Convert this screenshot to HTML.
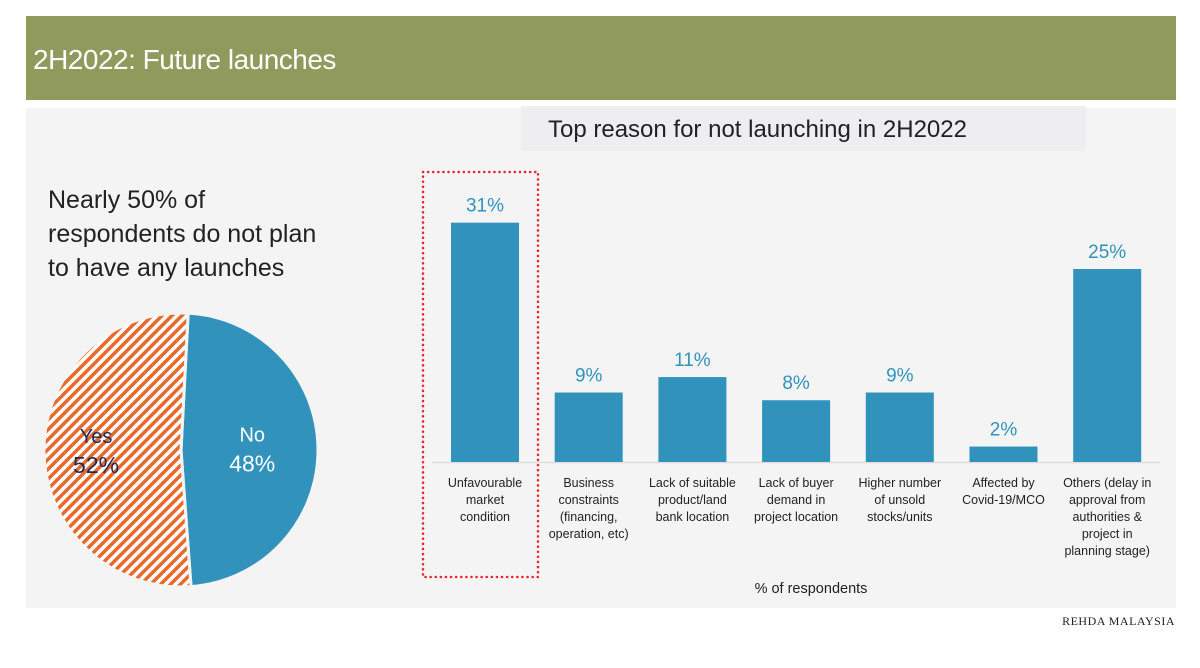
<!DOCTYPE html>
<html><head><meta charset="utf-8"><style>
body{margin:0;width:1200px;height:668px;background:#fff;font-family:"Liberation Sans",sans-serif;overflow:hidden;position:relative}
</style></head><body>
<div style="position:absolute;left:26px;top:16px;width:1150px;height:84px;background:#8f9a5c"></div>
<div style="position:absolute;left:33px;top:44px;color:#fff;font-size:28px;letter-spacing:-0.5px">2H2022: Future launches</div>
<div style="position:absolute;left:26px;top:108px;width:1150px;height:500px;background:#f4f4f4"></div>
<div style="position:absolute;left:521px;top:106px;width:565px;height:45px;background:#eeeef0"></div>
<div style="position:absolute;left:548px;top:116px;color:#222;font-size:24px">Top reason for not launching in 2H2022</div>
<div style="position:absolute;left:48px;top:183px;color:#222;font-size:25px;line-height:34px">Nearly 50% of<br>respondents do not plan<br>to have any launches</div>
<div style="position:absolute;right:25px;top:614px;font-family:'Liberation Serif',serif;font-size:12px;color:#222;letter-spacing:0.5px">REHDA MALAYSIA</div>
<svg id="chart" width="1200" height="668" style="position:absolute;left:0;top:0">
<defs><pattern id="hatch" width="7" height="7" patternUnits="userSpaceOnUse" patternTransform="rotate(45)"><rect width="7" height="7" fill="#fff"/><rect width="3.5" height="7" fill="#e8692a"/></pattern></defs>
</svg>
<script>
const pieLabels=["No","Yes"];
const pieValues=[48,52];
const categories=[["Unfavourable","market","condition"],["Business","constraints","(financing,","operation, etc)"],["Lack of suitable","product/land","bank location"],["Lack of buyer","demand in","project location"],["Higher number","of unsold","stocks/units"],["Affected by","Covid-19/MCO"],["Others (delay in","approval from","authorities &","project in","planning stage)"]];
const values=[31,9,11,8,9,2,25];
const NS="http://www.w3.org/2000/svg";
const svg=document.getElementById('chart');
function mk(t,a){const e=document.createElementNS(NS,t);for(const k in a)e.setAttribute(k,a[k]);svg.appendChild(e);return e;}
// pie
const cx=181,cy=450,r=137;let start=3;
const tot=pieValues.reduce((a,b)=>a+b,0);
pieValues.forEach((v,i)=>{
 const a0=start*Math.PI/180,sweep=v/tot*360,a1=(start+sweep)*Math.PI/180;
 const p=`M${cx},${cy} L${cx+r*Math.sin(a0)},${cy-r*Math.cos(a0)} A${r},${r} 0 ${sweep>180?1:0} 1 ${cx+r*Math.sin(a1)},${cy-r*Math.cos(a1)} Z`;
 const s=mk('path',{d:p,fill:i==0?'#3193bb':'url(#hatch)',stroke:'#f4f4f4','stroke-width':3});
 
 
 const mid=(start+sweep/2)*Math.PI/180, lr=i==0?r*0.52:r*0.62;
 const tx=cx+lr*Math.sin(mid), ty=cy-lr*Math.cos(mid);
 const col=i==0?'#fff':'#1d2a5c';
 const t1=mk('text',{x:tx,y:ty-8,'text-anchor':'middle','font-size':20,fill:col});t1.textContent=pieLabels[i];
 
 
 const t2=mk('text',{x:tx,y:ty+22,'text-anchor':'middle','font-size':23,fill:col});t2.textContent=v+'%';
 
 
 start+=sweep;
});
// bars
const base=462,pxPer=7.72,x0=485,step=103.7,bw=68;
const yS=v=>base-v*pxPer, xS=i=>x0+i*step;
const ax=mk('line',{x1:432,x2:1160,y1:base+0.5,y2:base+0.5,stroke:'#ddd','stroke-width':1.5});


values.forEach((v,i)=>{
 const b=mk('rect',{x:xS(i)-bw/2,y:yS(v),width:bw,height:base-yS(v),fill:'#3193bb'});
 
 
 const t=mk('text',{x:xS(i),y:yS(v)-11,'text-anchor':'middle','font-size':19,fill:'#3193bb'});t.textContent=v+'%';
 
 
 categories[i].forEach((ln,j)=>{
  const c=mk('text',{x:xS(i),y:487+j*17,'text-anchor':'middle','font-size':12.5,fill:'#222'});c.textContent=ln;
  
  
 });
});
const hl=mk('rect',{x:423,y:172,width:115,height:405,fill:'none',stroke:'#e8242a','stroke-width':2.5,'stroke-dasharray':'0.1 5','stroke-linecap':'round'});


const xt=mk('text',{x:811,y:593,'text-anchor':'middle','font-size':14.5,fill:'#222'});xt.textContent='% of respondents';


</script>
</body></html>
